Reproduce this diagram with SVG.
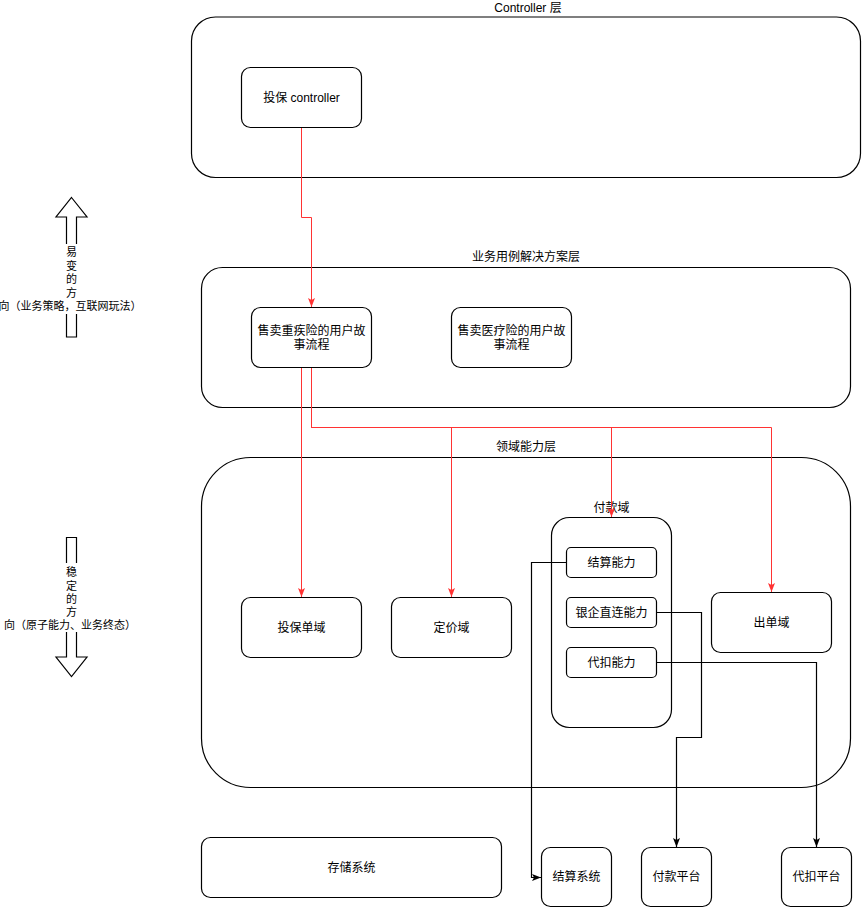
<svg xmlns="http://www.w3.org/2000/svg" width="862" height="908" viewBox="0 0 862 908">
<style>
.box{fill:#fff;stroke:#000;stroke-width:1.2}
.t{font-family:"Liberation Sans","Noto Sans CJK SC",sans-serif;font-size:12px;fill:#000;text-anchor:middle;dominant-baseline:central}
.s{font-size:11px}
.red{fill:none;stroke:#ff3333;stroke-width:1}
.blk{fill:none;stroke:#000;stroke-width:1.2}
</style>
<defs>
<marker id="ar" markerUnits="userSpaceOnUse" markerWidth="10" markerHeight="8" refX="9" refY="3.5" orient="auto" viewBox="0 0 10 8">
<path d="M0,0 L9,3.5 L0,7 L2,3.5 Z" fill="#ff3333"/>
</marker>
<marker id="ab" markerUnits="userSpaceOnUse" markerWidth="10" markerHeight="8" refX="9" refY="3.5" orient="auto" viewBox="0 0 10 8">
<path d="M0,0 L9,3.5 L0,7 L2,3.5 Z" fill="#000"/>
</marker>
</defs>
<rect width="862" height="908" fill="#fff"/>

<g id="layer-controller">
<rect class="box" x="191.5" y="17" width="669" height="160.5" rx="24"/>
<text class="t" x="528" y="8">Controller 层</text>
</g>
<g id="layer-usecase">
<rect class="box" x="201.5" y="267.5" width="649" height="140" rx="21"/>
<text class="t" x="526" y="257">业务用例解决方案层</text>
</g>
<g id="layer-domain">
<rect class="box" x="201.5" y="457.5" width="649" height="330" rx="49"/>
<text class="t" x="526" y="447">领域能力层</text>
</g>

<g id="arrow-up">
<path d="M71.5,197.5 L87,217 L76.5,217 L76.5,337 L66.5,337 L66.5,217 L56,217 Z" fill="#fff" stroke="#000" stroke-width="1.2"/>
<rect x="1" y="244" width="138" height="70" fill="#fff"/>
<text class="t s" x="71.5"><tspan x="71.5" y="252">易</tspan><tspan x="71.5" y="265.5">变</tspan><tspan x="71.5" y="279">的</tspan><tspan x="71.5" y="292.5">方</tspan><tspan x="70" y="306">向（业务策略，互联网玩法）</tspan></text>
</g>
<g id="arrow-down">
<path d="M66.5,537.5 L76.5,537.5 L76.5,657 L87,657 L71.5,676.5 L56,657 L66.5,657 Z" fill="#fff" stroke="#000" stroke-width="1.2"/>
<rect x="4" y="563" width="134" height="69" fill="#fff"/>
<text class="t s" x="71.5"><tspan x="71.5" y="572">稳</tspan><tspan x="71.5" y="585.5">定</tspan><tspan x="71.5" y="599">的</tspan><tspan x="71.5" y="612">方</tspan><tspan x="70" y="625">向（原子能力、业务终态）</tspan></text>
</g>

<g id="node-controller">
<rect class="box" x="241.5" y="67.5" width="120" height="60" rx="9"/>
<text class="t" x="301.5" y="97.5">投保 controller</text>
</g>
<g id="node-critical">
<rect class="box" x="251.5" y="307.5" width="120" height="60" rx="9"/>
<text class="t"><tspan x="311.5" y="331">售卖重疾险的用户故</tspan><tspan x="311.5" y="344.5">事流程</tspan></text>
</g>
<g id="node-medical">
<rect class="box" x="451.5" y="307.5" width="120" height="60" rx="9"/>
<text class="t"><tspan x="511.5" y="331">售卖医疗险的用户故</tspan><tspan x="511.5" y="344.5">事流程</tspan></text>
</g>
<g id="node-policy">
<rect class="box" x="241.5" y="597.5" width="120" height="60" rx="9"/>
<text class="t" x="301.5" y="627.5">投保单域</text>
</g>
<g id="node-pricing">
<rect class="box" x="391.5" y="597.5" width="120" height="60" rx="9"/>
<text class="t" x="451.5" y="627.5">定价域</text>
</g>
<g id="node-payment-domain">
<rect class="box" x="551.5" y="517.5" width="120" height="210" rx="18"/>
<text class="t" x="611.5" y="508">付款域</text>
</g>
<g id="node-settle-cap">
<rect class="box" x="566.5" y="547.5" width="90" height="30" rx="4.5"/>
<text class="t" x="611.5" y="562.5">结算能力</text>
</g>
<g id="node-bank-cap">
<rect class="box" x="566.5" y="597.5" width="90" height="30" rx="4.5"/>
<text class="t" x="611.5" y="612.5">银企直连能力</text>
</g>
<g id="node-debit-cap">
<rect class="box" x="566.5" y="647.5" width="90" height="30" rx="4.5"/>
<text class="t" x="611.5" y="662.5">代扣能力</text>
</g>
<g id="node-issue">
<rect class="box" x="711.5" y="592.5" width="120" height="60" rx="9"/>
<text class="t" x="771.5" y="622.5">出单域</text>
</g>
<g id="node-storage">
<rect class="box" x="201.5" y="837.5" width="300" height="60" rx="9"/>
<text class="t" x="351.5" y="867.5">存储系统</text>
</g>
<g id="node-settle-sys">
<rect class="box" x="541.5" y="847.5" width="70" height="59" rx="9"/>
<text class="t" x="576.5" y="877">结算系统</text>
</g>
<g id="node-pay-platform">
<rect class="box" x="641.5" y="847.5" width="70" height="59" rx="9"/>
<text class="t" x="676.5" y="877">付款平台</text>
</g>
<g id="node-debit-platform">
<rect class="box" x="781.5" y="847.5" width="70" height="59" rx="9"/>
<text class="t" x="816.5" y="877">代扣平台</text>
</g>

<g id="connectors">
<path class="red" d="M301.5,128 V217.5 H311.5 V307" marker-end="url(#ar)"/>
<path class="red" d="M301.5,368 V597" marker-end="url(#ar)"/>
<path class="red" d="M311.5,368 V427.5 H451.5 V597" marker-end="url(#ar)"/>
<path class="red" d="M311.5,368 V427.5 H611.5 V517" marker-end="url(#ar)"/>
<path class="red" d="M311.5,368 V427.5 H771.5 V592" marker-end="url(#ar)"/>
<path class="blk" d="M566,562.5 H531.5 V877.5 H541" marker-end="url(#ab)"/>
<path class="blk" d="M657,612.5 H701.5 V737.5 H676.5 V847" marker-end="url(#ab)"/>
<path class="blk" d="M657,662.5 H816.5 V847" marker-end="url(#ab)"/>
</g>
</svg>
